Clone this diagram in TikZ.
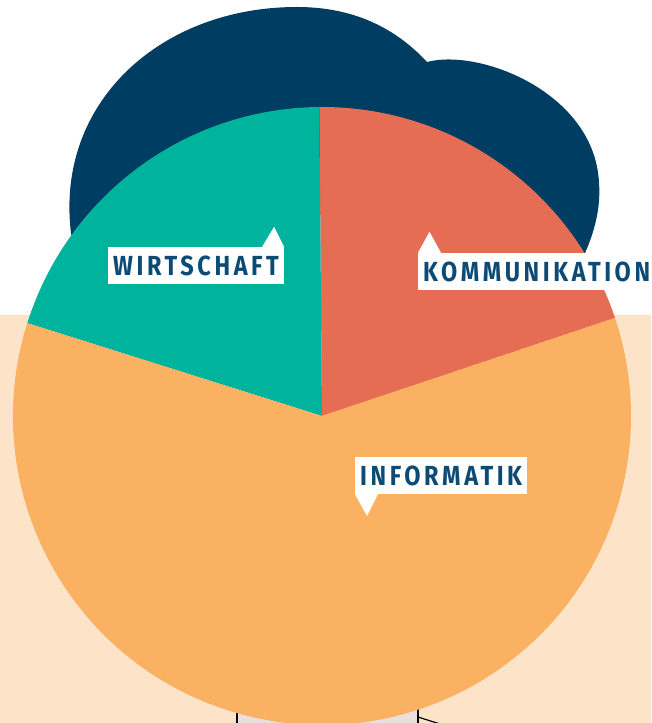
\documentclass[tikz,border=0pt]{standalone}
\usepackage{fontspec}
\setmainfont{Fira Sans}
\newfontfamily\labelfont{Fira Sans Bold}[FakeStretch=0.85,LetterSpace=13]
\definecolor{cloudblue}{HTML}{003D62}
\definecolor{labelblue}{HTML}{0C4B76}
\definecolor{wirtschaft}{HTML}{00B39D}
\definecolor{kommunikation}{HTML}{E56D53}
\definecolor{informatik}{HTML}{FAB161}
\definecolor{backpeach}{HTML}{FDE4C9}
\definecolor{boxgray}{HTML}{EADFDC}
\tikzset{
	seglabel/.style={fill=white,text=labelblue,anchor=west,minimum height=37,inner xsep=5,inner ysep=0,
		font=\labelfont\fontsize{27.6}{28}\selectfont},
}
\begin{document}
\begin{tikzpicture}[x=1pt,y=1pt]
	\useasboundingbox (0,0) rectangle (651,723);
	\clip (0,0) rectangle (651,723);

	\fill[backpeach] (0,0) rectangle (651,408);
	\draw[fill=boxgray,line width=1.2] (237,-5) -- (237,20) -- (418,20) -- (418,-5);
	\draw[line width=1.2] (418,6) -- (440,-1);

	\fill[cloudblue] (75,470) -- (71,490) .. controls (55,620) and (160,716) .. (297,716)
		.. controls (360,716) and (400,690) .. (427,661) -- (440,560) -- (200,470) -- cycle;
	\fill[cloudblue] (427,661) .. controls (480,675) and (595,630) .. (599,540)
		.. controls (601,515) and (594,490) .. (585,470) -- (565,430) -- (430,520) -- cycle;

	\coordinate (ctr) at (322,307);
	\fill[kommunikation] (ctr) -- ++(18.5:309) arc[start angle=18.5,end angle=90.5,radius=309] -- cycle;
	\fill[wirtschaft] (ctr) -- ++(90.5:309) arc[start angle=90.5,end angle=162.5,radius=309] -- cycle;
	\fill[informatik] (ctr) -- ++(162.5:309) arc[start angle=162.5,end angle=378.5,radius=309] -- cycle;

	\node[seglabel] (wirt) at (108,457.5) {WIRTSCHAFT};
	\fill[white] (wirt.north east) -- ++(-22,0) -- ++(12,20) -- cycle;
	\node[seglabel] (komm) at (418,451.5) {KOMMUNIKATION};
	\fill[white] (komm.north west) -- ++(23,0) -- ++(-11.5,21) -- cycle;
	\node[seglabel] (info) at (355,247.5) {INFORMATIK};
	\fill[white] (info.south west) -- ++(23,0) -- ++(-11,-22) -- cycle;
\end{tikzpicture}
\end{document}
